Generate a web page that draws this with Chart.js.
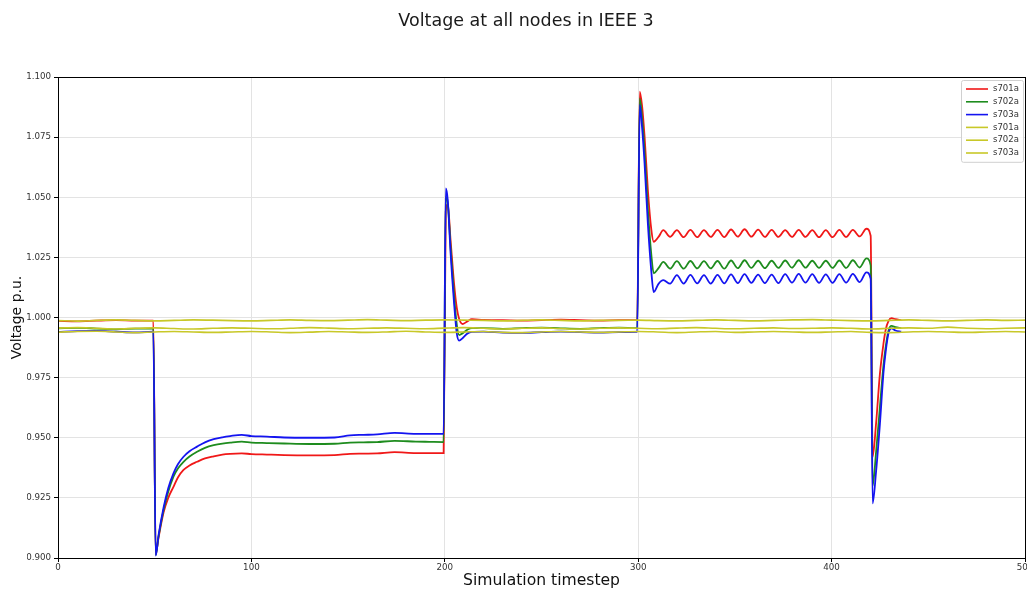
<!DOCTYPE html>
<html>
<head>
<meta charset="utf-8">
<title>Voltage at all nodes in IEEE 3</title>
<script src="https://cdn.jsdelivr.net/npm/chart.js@4.4.1/dist/chart.umd.min.js"></script>
<style>
  html, body { margin: 0; padding: 0; background: #ffffff; overflow: hidden; }
  #wrap { position: absolute; left: 0; top: 0; width: 1052px; height: 600px; }
  canvas { display: block; }
</style>
</head>
<body>
<div id="wrap"><canvas id="chart" width="1052" height="600"></canvas></div>
<script>
// Axis ticks
const stepTicks = [0, 100, 200, 300, 400, 500];
const voltageTicks = [0.900, 0.925, 0.950, 0.975, 1.000, 1.025, 1.050, 1.075, 1.100];

// Simulated node voltages (with faults at steps 50, 200, 300 and 420)
const simSteps = [
  0, 10, 20, 30, 40, 49.3,
  50.5, 52, 54.6, 57, 59.7, 62, 64.9, 68, 71.9, 76, 80.5, 85, 89, 95, 100,
  108, 117, 130, 143, 151, 158, 165, 174, 185, 192, 199.4,
  200.5, 201.5, 203, 204.8, 206.2, 207.4, 209.3, 211.8, 214,
  220, 230, 240, 250, 260, 270, 280, 290, 299.5,
  300.8, 302, 303.3, 305, 306.8, 308, 310.5,
  313, 316.5, 320, 323.5, 327, 330.5, 334, 337.5, 341, 344.5, 348, 351.5,
  355, 358.5, 362, 365.5, 369, 372.5, 376, 379.5, 383, 386.5, 390, 393.5,
  397, 400.5, 404, 407.5, 411, 414.5, 418, 420.2,
  421.2, 423, 425, 426.8, 428, 429.4, 431, 433, 436
];
const s701aSim = [
  0.9986, 0.9984, 0.9987, 0.9989, 0.9987, 0.9987,
  0.9015, 0.9085, 0.9190, 0.9250, 0.9296, 0.9335, 0.9366, 0.9385, 0.9400, 0.9414, 0.9423, 0.9430, 0.9433, 0.9435, 0.9432,
  0.9430, 0.9428, 0.9427, 0.9428, 0.9433, 0.9434, 0.9435, 0.9440, 0.9436, 0.9436, 0.9436,
  1.0440, 1.0470, 1.0320, 1.0140, 1.0040, 0.9995, 0.9973, 0.9985, 0.9993,
  0.9990, 0.9989, 0.9987, 0.9989, 0.9991, 0.9989, 0.9987, 0.9989, 0.9989,
  1.0939, 1.0880, 1.0752, 1.0530, 1.0364, 1.0315, 1.0335,
  1.0363, 1.0335, 1.0363, 1.0334, 1.0364, 1.0334, 1.0363, 1.0335, 1.0364, 1.0334, 1.0366, 1.0336,
  1.0367, 1.0336, 1.0365, 1.0335, 1.0364, 1.0335, 1.0363, 1.0335, 1.0364, 1.0335, 1.0363, 1.0334,
  1.0363, 1.0334, 1.0364, 1.0335, 1.0364, 1.0337, 1.0369, 1.0340,
  0.9420, 0.9560, 0.9768, 0.9890, 0.9950, 0.9985, 0.9997, 0.9993, 0.9989
];
const s702aSim = [
  0.9955, 0.9957, 0.9954, 0.9951, 0.9954, 0.9954,
  0.9012, 0.9090, 0.9200, 0.9275, 0.9338, 0.9372, 0.9400, 0.9422, 0.9442, 0.9458, 0.9469, 0.9476, 0.9480, 0.9484, 0.9480,
  0.9478, 0.9476, 0.9474, 0.9475, 0.9480, 0.9481, 0.9482, 0.9487, 0.9484, 0.9483, 0.9482,
  1.0500, 1.0480, 1.0290, 1.0090, 0.9970, 0.9927, 0.9935, 0.9950, 0.9956,
  0.9956, 0.9953, 0.9956, 0.9958, 0.9955, 0.9953, 0.9956, 0.9958, 0.9956,
  1.0911, 1.0830, 1.0690, 1.0450, 1.0260, 1.0184, 1.0205,
  1.0231, 1.0203, 1.0234, 1.0203, 1.0235, 1.0204, 1.0234, 1.0204, 1.0235, 1.0203, 1.0237, 1.0205,
  1.0238, 1.0206, 1.0236, 1.0205, 1.0236, 1.0206, 1.0237, 1.0207, 1.0238, 1.0207, 1.0236, 1.0206,
  1.0236, 1.0206, 1.0237, 1.0206, 1.0238, 1.0208, 1.0246, 1.0217,
  0.9300, 0.9440, 0.9630, 0.9800, 0.9880, 0.9945, 0.9965, 0.9960, 0.9956
];
const s703aSim = [
  0.9940, 0.9943, 0.9944, 0.9941, 0.9938, 0.9941,
  0.9010, 0.9095, 0.9210, 0.9290, 0.9352, 0.9390, 0.9421, 0.9444, 0.9463, 0.9481, 0.9494, 0.9502, 0.9507, 0.9512, 0.9507,
  0.9505, 0.9501, 0.9500, 0.9501, 0.9510, 0.9512, 0.9514, 0.9520, 0.9516, 0.9516, 0.9516,
  1.0537, 1.0490, 1.0267, 1.0059, 0.9934, 0.9904, 0.9915, 0.9934, 0.9940,
  0.9941, 0.9937, 0.9936, 0.9939, 0.9941, 0.9939, 0.9937, 0.9939, 0.9940,
  1.0884, 1.0790, 1.0640, 1.0390, 1.0190, 1.0106, 1.0140,
  1.0155, 1.0141, 1.0176, 1.0141, 1.0177, 1.0142, 1.0176, 1.0141, 1.0177, 1.0142, 1.0179, 1.0143,
  1.0180, 1.0144, 1.0178, 1.0143, 1.0178, 1.0143, 1.0180, 1.0145, 1.0181, 1.0145, 1.0180, 1.0144,
  1.0179, 1.0144, 1.0180, 1.0145, 1.0181, 1.0147, 1.0188, 1.0161,
  0.9227, 0.9360, 0.9560, 0.9768, 0.9860, 0.9934, 0.9955, 0.9946, 0.9941
];

// Reference node voltages, sampled every 10 steps
const refSteps = [
  0, 10, 20, 30, 40, 50, 60, 70, 80, 90,
  100, 110, 120, 130, 140, 150, 160, 170, 180, 190,
  200, 210, 220, 230, 240, 250, 260, 270, 280, 290,
  300, 310, 320, 330, 340, 350, 360, 370, 380, 390,
  400, 410, 420, 430, 440, 450, 460, 470, 480, 490, 500
];
const s701aRef = [
  0.9987, 0.9985, 0.9988, 0.9990, 0.9988, 0.9986, 0.9988, 0.9990, 0.9989, 0.9987,
  0.9986, 0.9988, 0.9990, 0.9988, 0.9987, 0.9989, 0.9991, 0.9989, 0.9987, 0.9989,
  0.9990, 0.9989, 0.9988, 0.9986, 0.9988, 0.9990, 0.9988, 0.9986, 0.9988, 0.9988,
  0.9989, 0.9987, 0.9986, 0.9988, 0.9990, 0.9988, 0.9986, 0.9988, 0.9990, 0.9991,
  0.9989, 0.9987, 0.9986, 0.9988, 0.9990, 0.9988, 0.9986, 0.9988, 0.9990, 0.9988, 0.9989
];
const s702aRef = [
  0.9956, 0.9958, 0.9955, 0.9952, 0.9955, 0.9957, 0.9954, 0.9952, 0.9955, 0.9957,
  0.9955, 0.9953, 0.9955, 0.9958, 0.9956, 0.9953, 0.9955, 0.9957, 0.9955, 0.9953,
  0.9956, 0.9958, 0.9955, 0.9952, 0.9955, 0.9957, 0.9954, 0.9952, 0.9955, 0.9957,
  0.9955, 0.9953, 0.9956, 0.9958, 0.9955, 0.9953, 0.9955, 0.9957, 0.9954, 0.9955,
  0.9957, 0.9955, 0.9952, 0.9955, 0.9957, 0.9955, 0.9960, 0.9955, 0.9953, 0.9955, 0.9957
];
const s703aRef = [
  0.9939, 0.9942, 0.9943, 0.9940, 0.9937, 0.9940, 0.9942, 0.9940, 0.9938, 0.9940,
  0.9942, 0.9940, 0.9937, 0.9939, 0.9942, 0.9940, 0.9938, 0.9940, 0.9943, 0.9940,
  0.9938, 0.9940, 0.9942, 0.9938, 0.9937, 0.9940, 0.9942, 0.9940, 0.9938, 0.9940,
  0.9942, 0.9940, 0.9937, 0.9940, 0.9942, 0.9938, 0.9940, 0.9942, 0.9940, 0.9938,
  0.9940, 0.9942, 0.9938, 0.9937, 0.9940, 0.9942, 0.9940, 0.9938, 0.9940, 0.9942, 0.9940
];

const seriesLabels = ['s701a', 's702a', 's703a', 's701a', 's702a', 's703a'];
const seriesColors = ['#f01818', '#1e8c1e', '#1414f0', '#c8c828', '#c8c828', '#c8c828'];

function toPoints(xs, ys) {
  return xs.map((x, i) => ({ x: x, y: ys[i] }));
}

const seriesData = [
  toPoints(simSteps, s701aSim),
  toPoints(simSteps, s702aSim),
  toPoints(simSteps, s703aSim),
  toPoints(refSteps, s701aRef),
  toPoints(refSteps, s702aRef),
  toPoints(refSteps, s703aRef)
];
// later datasets sit on top, as in the original plotting order
const drawOrder = [3, 2, 1, 0, 0, 0];

const datasets = seriesData.map((pts, i) => ({
  label: seriesLabels[i],
  data: pts,
  borderColor: seriesColors[i],
  backgroundColor: seriesColors[i],
  borderWidth: i < 3 ? 1.8 : 1.6,
  pointRadius: 0,
  fill: false,
  cubicInterpolationMode: 'monotone',
  order: drawOrder[i]
}));

const FONT = "'DejaVu Sans', 'Liberation Sans', sans-serif";

// Frame around the plot area plus an in-axes legend box
const framePlugin = {
  id: 'frameAndLegend',
  afterDatasetsDraw(chart) {
    const { ctx, chartArea: a } = chart;
    ctx.save();
    ctx.strokeStyle = '#000';
    ctx.lineWidth = 1;
    ctx.strokeRect(Math.round(a.left) + 0.5, Math.round(a.top) + 0.5,
                   Math.round(a.right - a.left), Math.round(a.bottom - a.top));

    // legend
    const ds = chart.data.datasets;
    const boxW = 62, rowH = 12.8;
    const boxX = a.right - 64, boxY = a.top + 3;
    const boxH = ds.length * rowH + 5;
    ctx.beginPath();
    ctx.roundRect(boxX + 0.5, boxY + 0.5, boxW, boxH, 2);
    ctx.fillStyle = 'rgba(255,255,255,0.85)';
    ctx.fill();
    ctx.strokeStyle = '#d0d0d0';
    ctx.stroke();
    ctx.font = '8.5px ' + FONT;
    ctx.textBaseline = 'middle';
    ctx.textAlign = 'left';
    ds.forEach((d, i) => {
      const y = boxY + 9 + i * rowH;
      ctx.beginPath();
      ctx.strokeStyle = d.borderColor;
      ctx.lineWidth = 1.6;
      ctx.moveTo(boxX + 5, y);
      ctx.lineTo(boxX + 27, y);
      ctx.stroke();
      ctx.fillStyle = '#333';
      ctx.fillText(d.label, boxX + 32, y);
    });
    ctx.restore();
  }
};

new Chart(document.getElementById('chart'), {
  type: 'line',
  data: { datasets: datasets },
  options: {
    responsive: false,
    animation: false,
    layout: { padding: { left: 27, right: 27, top: 0, bottom: 0 } },
    plugins: {
      legend: { display: false },
      tooltip: { enabled: false },
      title: {
        display: true,
        text: 'Voltage at all nodes in IEEE 3',
        color: '#1a1a1a',
        font: { family: FONT, size: 17.5, weight: 'normal' },
        padding: { top: 10.5, bottom: 45.5 }
      }
    },
    scales: {
      x: {
        type: 'linear',
        min: 0,
        max: 500,
        afterBuildTicks: s => { s.ticks = stepTicks.map(v => ({ value: v })); },
        afterFit: s => { s.height = 42; },
        ticks: {
          color: '#333',
          font: { family: FONT, size: 8.7 },
          padding: 1,
          maxRotation: 0,
          callback: v => String(v)
        },
        grid: { color: '#e3e3e3', lineWidth: 1, tickColor: '#000', tickLength: 4 },
        border: { color: '#000', width: 1 },
        title: {
          display: true,
          text: 'Simulation timestep',
          color: '#111',
          font: { family: FONT, size: 15.6 },
          padding: { top: 0, bottom: 9.6 }
        }
      },
      y: {
        type: 'linear',
        min: 0.9,
        max: 1.1,
        afterBuildTicks: s => { s.ticks = voltageTicks.map(v => ({ value: v })); },
        afterFit: s => { s.width = 31; },
        ticks: {
          color: '#333',
          font: { family: FONT, size: 8.7 },
          padding: 3,
          callback: v => Number(v).toFixed(3)
        },
        grid: { color: '#e3e3e3', lineWidth: 1, tickColor: '#000', tickLength: 4 },
        border: { color: '#000', width: 1 },
        title: {
          display: true,
          text: 'Voltage p.u.',
          color: '#111',
          font: { family: FONT, size: 14 },
          padding: { top: -18.4, bottom: 0 }
        }
      }
    }
  },
  plugins: [framePlugin]
});
</script>
</body>
</html>
